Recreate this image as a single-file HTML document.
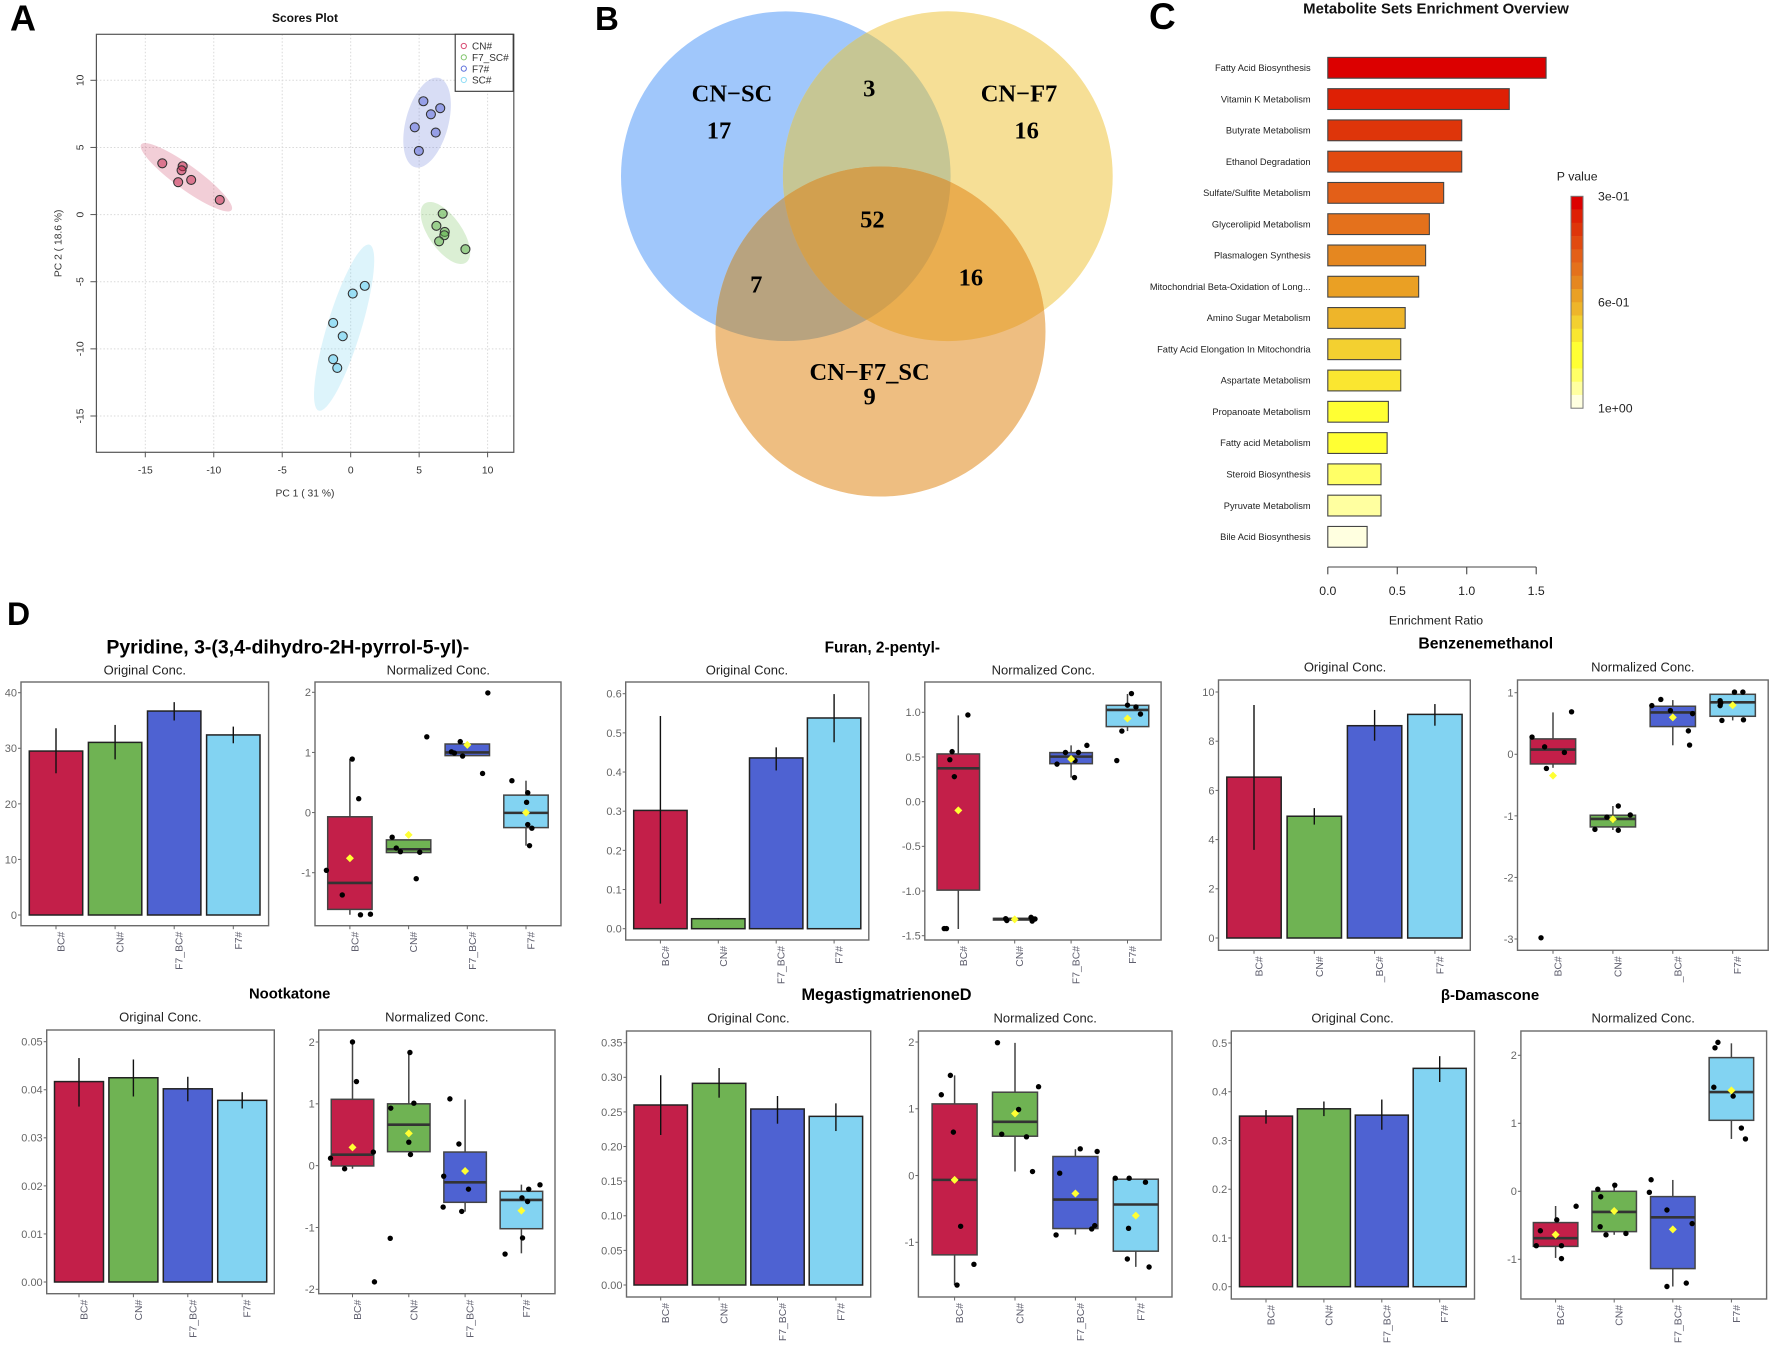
<!DOCTYPE html>
<html lang="en">
<head>
<meta charset="utf-8">
<title>Metabolomics figure</title>
<style>
html,body{margin:0;padding:0;background:#fff;}
svg{display:block;font-family:"Liberation Sans",sans-serif;}
.venn{font-family:"Liberation Serif",serif;font-weight:bold;font-size:24.5px;text-anchor:middle;fill:#000;}
.letter{font-weight:bold;fill:#000;}
.main{font-weight:bold;text-anchor:middle;fill:#000;}
.sub{font-size:13px;text-anchor:middle;fill:#222;}
</style>
</head>
<body>
<svg id="figure" xmlns="http://www.w3.org/2000/svg" width="1772" height="1349" viewBox="0 0 1772 1349">
  <rect x="0" y="0" width="1772" height="1349" fill="#fff"/>
  <text class="letter" x="10" y="30.7" font-size="36">A</text>
  <text class="letter" x="595" y="30" font-size="33">B</text>
  <text class="letter" x="1149" y="29" font-size="37">C</text>
  <text class="letter" x="7" y="625" font-size="32">D</text>

  <g id="venn">
    <defs>
      <clipPath id="clip-sc"><circle cx="785.8" cy="176.2" r="164.8"/></clipPath>
      <clipPath id="clip-f7"><circle cx="947.8" cy="176.2" r="164.9"/></clipPath>
      <clipPath id="clip-f7sc"><circle cx="880.5" cy="331.5" r="165"/></clipPath>
    </defs>
    <circle cx="785.8" cy="176.2" r="164.8" fill="#A0C7FB"/>
    <circle cx="947.8" cy="176.2" r="164.9" fill="#F6DF96"/>
    <circle cx="880.5" cy="331.5" r="165" fill="#EEBE81"/>
    <g clip-path="url(#clip-sc)"><circle cx="947.8" cy="176.2" r="164.9" fill="#C6C694"/></g>
    <g clip-path="url(#clip-sc)"><circle cx="880.5" cy="331.5" r="165" fill="#B8A37F"/></g>
    <g clip-path="url(#clip-f7)"><circle cx="880.5" cy="331.5" r="165" fill="#EAAE50"/></g>
    <g clip-path="url(#clip-sc)"><g clip-path="url(#clip-f7)"><circle cx="880.5" cy="331.5" r="165" fill="#D2A04F"/></g></g>
    <text class="venn" x="732" y="101.7">CN−SC</text>
    <text class="venn" x="719" y="138.7">17</text>
    <text class="venn" x="1019" y="101.7">CN−F7</text>
    <text class="venn" x="1026.6" y="138.7">16</text>
    <text class="venn" x="869.3" y="96.7">3</text>
    <text class="venn" x="872.4" y="227.3">52</text>
    <text class="venn" x="756.3" y="292.7">7</text>
    <text class="venn" x="970.9" y="285.7">16</text>
    <text class="venn" x="869.6" y="380">CN−F7_SC</text>
    <text class="venn" x="869.6" y="404.7">9</text>
  </g>

  <g id="scores"></g>
  <g id="enrichment"></g>
  <g id="metabolites"></g>

  <text class="main" x="287.8" y="653.3" font-size="19.5">Pyridine, 3-(3,4-dihydro-2H-pyrrol-5-yl)-</text>
  <text class="main" x="882.3" y="652.3" font-size="15.4">Furan, 2-pentyl-</text>
  <text class="main" x="1485.8" y="648.7" font-size="15.75">Benzenemethanol</text>
  <text class="main" x="289.7" y="998.7" font-size="14.8">Nootkatone</text>
  <text class="main" x="886.5" y="1000" font-size="16.3">MegastigmatrienoneD</text>
  <text class="main" x="1490" y="1000" font-size="15">β-Damascone</text>

  <text class="sub" x="144.8" y="674.7">Original Conc.</text>
  <text class="sub" x="438.3" y="674.7">Normalized Conc.</text>
  <text class="sub" x="746.9" y="674.3">Original Conc.</text>
  <text class="sub" x="1043.3" y="674.3">Normalized Conc.</text>
  <text class="sub" x="1345" y="671.7">Original Conc.</text>
  <text class="sub" x="1642.8" y="671.7">Normalized Conc.</text>
  <text class="sub" x="160.3" y="1021.3">Original Conc.</text>
  <text class="sub" x="436.8" y="1021.3">Normalized Conc.</text>
  <text class="sub" x="748.4" y="1022.3">Original Conc.</text>
  <text class="sub" x="1045.2" y="1022.3">Normalized Conc.</text>
  <text class="sub" x="1352.5" y="1022.7">Original Conc.</text>
  <text class="sub" x="1643.2" y="1022.7">Normalized Conc.</text>
</svg>

<script>
/* ---------- Panel A data ---------- */
const pcaTicks = [-15, -10, -5, 0, 5, 10];
const pcaGroups = ['CN#', 'F7_SC#', 'F7#', 'SC#'];
const cnPc1 = [-13.76, -12.27, -12.35, -12.6, -11.65, -9.56];
const cnPc2 = [3.82, 3.6, 3.3, 2.41, 2.58, 1.09];
const f7ScPc1 = [6.72, 6.26, 6.87, 6.84, 6.46, 8.38];
const f7ScPc2 = [0.07, -0.84, -1.29, -1.54, -1.99, -2.58];
const f7Pc1 = [5.31, 6.54, 5.86, 4.68, 6.21, 4.98];
const f7Pc2 = [8.44, 7.92, 7.47, 6.5, 6.11, 4.74];
const scPc1 = [1.03, 0.15, -1.28, -0.58, -1.28, -0.98];
const scPc2 = [-5.31, -5.88, -8.07, -9.06, -10.77, -11.42];
const ellipseCenterPc1 = [-12.0, 6.92, 5.58, -0.48];
const ellipseCenterPc2 = [2.78, -1.37, 6.85, -8.42];
const ellipseMajor = [4.12, 2.66, 3.41, 6.4];
const ellipseMinor = [0.88, 1.22, 1.57, 1.25];
const ellipseTilt = [36, 55, -75, -73];

/* ---------- Panel C data ---------- */
const setNames = ['Fatty Acid Biosynthesis', 'Vitamin K Metabolism', 'Butyrate Metabolism', 'Ethanol Degradation', 'Sulfate/Sulfite Metabolism', 'Glycerolipid Metabolism', 'Plasmalogen Synthesis', 'Mitochondrial Beta-Oxidation of Long...', 'Amino Sugar Metabolism', 'Fatty Acid Elongation In Mitochondria', 'Aspartate Metabolism', 'Propanoate Metabolism', 'Fatty acid Metabolism', 'Steroid Biosynthesis', 'Pyruvate Metabolism', 'Bile Acid Biosynthesis'];
const enrichmentRatios = [1.571, 1.306, 0.964, 0.964, 0.834, 0.731, 0.704, 0.654, 0.557, 0.525, 0.525, 0.436, 0.427, 0.383, 0.383, 0.283];
const enrichmentTicks = [0, 0.5, 1, 1.5];
const pValueLabels = ['3e-01', '6e-01', '1e+00'];

/* ---------- Panel D data ---------- */
const categories = ['BC#', 'CN#', 'F7_BC#', 'F7#'];
const benzeneCategories = ['BC#', 'CN#', '_BC#', 'F7#'];

const pyridineBarTicks = [0, 10, 20, 30, 40];
const pyridineBoxTicks = [-1, 0, 1, 2];
const pyridineMeans = [29.5, 31.06, 36.7, 32.4];
const pyridineErrLow = [25.5, 28, 35, 30.9];
const pyridineErrHigh = [33.6, 34.2, 38.3, 33.9];
const pyridineQ1 = [-1.61, -0.665, 0.947, -0.25];
const pyridineQ3 = [-0.07, -0.454, 1.14, 0.29];
const pyridineMedian = [-1.17, -0.61, 1.0, -0.005];
const pyridineWhiskerLow = [-1.7, -0.665, 0.947, -0.55];
const pyridineWhiskerHigh = [0.89, -0.454, 1.14, 0.53];
const pyridineBoxMean = [-0.76, -0.37, 1.125, 0];
const pyridineDots = [[0.89, 0.23, -0.96, -1.37, -1.7, -1.69], [1.26, -0.41, -0.59, -0.65, -0.66, -1.1], [1.99, 1.18, 1.01, 0.99, 0.94, 0.65], [0.53, 0.33, 0.17, -0.2, -0.26, -0.55]];
const pyridineJitter = [[0.04, 0.15, -0.4, -0.13, 0.18, 0.35], [0.31, -0.28, -0.21, -0.14, 0.19, 0.13], [0.35, -0.12, -0.27, -0.22, -0.08, 0.26], [-0.24, 0.03, 0.01, 0.03, 0.1, 0.06]];

const furanBarTicks = [0, 0.1, 0.2, 0.3, 0.4, 0.5, 0.6];
const furanBoxTicks = [-1.5, -1, -0.5, 0, 0.5, 1];
const furanMeans = [0.302, 0.0255, 0.436, 0.538];
const furanErrLow = [0.064, 0.024, 0.404, 0.476];
const furanErrHigh = [0.543, 0.027, 0.463, 0.599];
const furanQ1 = [-0.99, -1.325, 0.425, 0.84];
const furanQ3 = [0.534, -1.306, 0.549, 1.078];
const furanMedian = [0.373, -1.313, 0.504, 1.026];
const furanWhiskerLow = [-1.425, -1.325, 0.27, 0.79];
const furanWhiskerHigh = [0.966, -1.306, 0.63, 1.205];
const furanBoxMean = [-0.097, -1.317, 0.478, 0.93];
const furanDots = [[0.97, 0.56, 0.47, 0.28, -1.42, -1.42], [-1.31, -1.33, -1.295, -1.336, -1.313, -1.313], [0.63, 0.55, 0.55, 0.46, 0.42, 0.27], [1.21, 1.08, 1.06, 0.98, 0.79, 0.46]];
const furanJitter = [[0.17, -0.11, -0.15, -0.07, -0.25, -0.21], [-0.16, -0.14, 0.29, 0.31, 0.36, 0.33], [0.28, -0.1, 0.13, 0.07, -0.25, 0.06], [0.07, 0, 0.15, 0.23, -0.1, -0.19]];

const benzeneBarTicks = [0, 2, 4, 6, 8, 10];
const benzeneBoxTicks = [-3, -2, -1, 0, 1];
const benzeneMeans = [6.54, 4.95, 8.63, 9.09];
const benzeneErrLow = [3.58, 4.61, 8.02, 8.63];
const benzeneErrHigh = [9.47, 5.28, 9.27, 9.51];
const benzeneQ1 = [-0.157, -1.18, 0.45, 0.617];
const benzeneQ3 = [0.25, -0.99, 0.78, 0.974];
const benzeneMedian = [0.076, -1.05, 0.68, 0.844];
const benzeneWhiskerLow = [-0.22, -1.23, 0.146, 0.55];
const benzeneWhiskerHigh = [0.68, -0.84, 0.88, 1.017];
const benzeneBoxMean = [-0.346, -1.055, 0.6, 0.796];
const benzeneDots = [[0.69, 0.28, 0.12, 0.03, -0.23, -2.98], [-0.84, -0.985, -1.02, -1.22, -1.234, -1.06], [0.89, 0.79, 0.71, 0.66, 0.38, 0.15], [1.01, 1.01, 0.87, 0.83, 0.79, 0.55, 0.56]];
const benzeneJitter = [[0.31, -0.35, -0.14, 0.19, -0.11, -0.2], [0.09, 0.29, -0.1, -0.3, 0.09, 0], [-0.2, -0.35, -0.04, 0.33, 0.26, 0.28], [0.03, 0.17, -0.21, -0.2, -0.21, -0.18, 0.18]];

const nootkatoneBarTicks = [0, 0.01, 0.02, 0.03, 0.04, 0.05];
const nootkatoneBoxTicks = [-2, -1, 0, 1, 2];
const nootkatoneMeans = [0.0417, 0.0425, 0.0402, 0.0378];
const nootkatoneErrLow = [0.0365, 0.0386, 0.0376, 0.0361];
const nootkatoneErrHigh = [0.0466, 0.0463, 0.0427, 0.0395];
const nootkatoneQ1 = [-0.005, 0.226, -0.593, -1.02];
const nootkatoneQ3 = [1.073, 1.0, 0.22, -0.415];
const nootkatoneMedian = [0.178, 0.663, -0.27, -0.555];
const nootkatoneWhiskerLow = [-0.05, 0.226, -0.744, -1.418];
const nootkatoneWhiskerHigh = [2.0, 1.83, 1.07, -0.307];
const nootkatoneBoxMean = [0.296, 0.523, -0.086, -0.728];
const nootkatoneDots = [[2, 1.36, 0.22, 0.12, -0.05, -1.88], [1.83, 1.01, 0.93, 0.38, 0.18, -1.175], [1.08, 0.35, -0.17, -0.38, -0.67, -0.74], [-0.31, -0.38, -0.52, -0.58, -1.17, -1.43]];
const nootkatoneJitter = [[0, 0.07, 0.37, -0.39, -0.14, 0.39], [0.02, 0.09, -0.32, 0, 0.03, -0.33], [-0.27, -0.11, -0.38, 0.06, -0.39, -0.06], [0.33, 0.13, 0.01, 0.11, 0.02, -0.29]];

const megastigBarTicks = [0, 0.05, 0.1, 0.15, 0.2, 0.25, 0.3, 0.35];
const megastigBoxTicks = [-1, 0, 1, 2];
const megastigMeans = [0.26, 0.2913, 0.2542, 0.2436];
const megastigErrLow = [0.2167, 0.2706, 0.233, 0.2224];
const megastigErrHigh = [0.303, 0.3134, 0.273, 0.2624];
const megastigQ1 = [-1.188, 0.589, -0.794, -1.133];
const megastigQ3 = [1.073, 1.248, 0.285, -0.055];
const megastigMedian = [-0.065, 0.804, -0.36, -0.434];
const megastigWhiskerLow = [-1.64, 0.06, -0.884, -1.368];
const megastigWhiskerHigh = [1.5, 1.987, 0.394, -0.055];
const megastigBoxMean = [-0.065, 0.929, -0.27, -0.6];
const megastigDots = [[1.5, 1.21, 0.65, -0.76, -1.33, -1.64], [1.99, 1.33, 0.99, 0.62, 0.58, 0.06], [0.4, 0.36, 0.035, -0.75, -0.8, -0.89], [-0.04, -0.04, -0.1, -0.79, -1.25, -1.37]];
const megastigJitter = [[-0.07, -0.22, -0.02, 0.1, 0.32, 0.04], [-0.29, 0.39, 0.06, -0.22, 0.19, 0.29], [0.08, 0.36, -0.26, 0.32, 0.27, -0.32], [-0.34, -0.11, 0.16, -0.12, -0.14, 0.22]];

const damasconeBarTicks = [0, 0.1, 0.2, 0.3, 0.4, 0.5];
const damasconeBoxTicks = [-1, 0, 1, 2];
const damasconeMeans = [0.35, 0.365, 0.352, 0.448];
const damasconeErrLow = [0.3345, 0.35, 0.322, 0.42];
const damasconeErrHigh = [0.3625, 0.38, 0.384, 0.473];
const damasconeQ1 = [-0.81, -0.593, -1.137, 1.044];
const damasconeQ3 = [-0.46, 0, -0.078, 1.966];
const damasconeMedian = [-0.69, -0.304, -0.382, 1.46];
const damasconeWhiskerLow = [-0.98, -0.64, -1.4, 0.77];
const damasconeWhiskerHigh = [-0.216, 0.093, 0.167, 2.176];
const damasconeBoxMean = [-0.637, -0.29, -0.56, 1.485];
const damasconeDots = [[-0.22, -0.42, -0.58, -0.8, -0.8, -0.99], [0.09, 0.03, -0.08, -0.52, -0.64, -0.62], [0.17, -0.015, -0.275, -0.475, -1.35, -1.4], [2.19, 2.11, 1.53, 1.4, 0.93, 0.77]];
const damasconeJitter = [[0.35, 0.02, -0.26, -0.33, 0.1, 0.1], [0.01, -0.28, -0.23, -0.24, -0.14, 0.2], [-0.37, -0.4, -0.1, 0.33, 0.23, -0.1], [-0.23, -0.28, -0.3, 0.03, 0.17, 0.24]];

/* ---------- Palettes ---------- */
const categoryColors = ['#C31F49', '#6FB353', '#4E62D2', '#82D3F2'];
const pcaFill = ['rgba(196,30,72,.5)', 'rgba(90,175,70,.5)', 'rgba(70,85,215,.45)', 'rgba(100,205,240,.55)'];
const pcaHalo = ['rgba(196,30,72,.22)', 'rgba(110,190,85,.25)', 'rgba(78,98,210,.22)', 'rgba(120,210,240,.25)'];
const pcaEdge = ['#D84A72', '#80C46C', '#6072DC', '#8CDCF6'];
const heatColors = ['#DC0000', '#DE2005', '#DE350A', '#E14A10', '#E35F18', '#E4711C', '#E58720', '#EAA024', '#EEB52A', '#F3D030', '#FAE630', '#FFFF33', '#FFFF33', '#FFFF66', '#FFFFA0', '#FFFFE0'];

/* ---------- Helpers ---------- */
const NS = 'http://www.w3.org/2000/svg';
function mk(parent, tag, attrs, text) {
  const el = document.createElementNS(NS, tag);
  for (const k in attrs) el.setAttribute(k, attrs[k]);
  if (text !== undefined) el.textContent = text;
  parent.appendChild(el);
  return el;
}
function scale(d0, d1, r0, r1) {
  return function (v) { return r0 + (v - d0) * (r1 - r0) / (d1 - d0); };
}
const TICK = '#666';
const LABEL = '#666';

/* ---------- Panel A ---------- */
function drawScores() {
  const g = document.getElementById('scores');
  const L = 96.4, R = 513.8, T = 34.3, B = 452.3;
  const sx = scale(-15, 10, 145.3, 487.6);
  const sy = scale(-15, 10, 416, 80.3);
  const unitX = Math.abs(sx(1) - sx(0));
  const unitY = Math.abs(sy(1) - sy(0));

  const title = mk(g, 'text', { x: 305, y: 22, 'font-size': 12, 'font-weight': 'bold', 'text-anchor': 'middle', fill: '#111' }, 'Scores Plot');
  
  

  pcaTicks.forEach(function (t) {
    const vg = mk(g, 'line', { x1: sx(t), x2: sx(t), y1: T, y2: B, stroke: '#d9d9d9', 'stroke-width': 1, 'stroke-dasharray': '1.5 2' });
    
    
    const hg = mk(g, 'line', { x1: L, x2: R, y1: sy(t), y2: sy(t), stroke: '#d9d9d9', 'stroke-width': 1, 'stroke-dasharray': '1.5 2' });
    
    
    const xt = mk(g, 'line', { x1: sx(t), x2: sx(t), y1: B, y2: B + 5, stroke: '#555', 'stroke-width': 1 });
    
    
    const yt = mk(g, 'line', { x1: L - 6, x2: L, y1: sy(t), y2: sy(t), stroke: '#555', 'stroke-width': 1 });
    
    
    const xl = mk(g, 'text', { x: sx(t), y: 473.3, 'font-size': 10.3, 'text-anchor': 'middle', fill: '#333' }, String(t));
    
    
    const yl = mk(g, 'text', { x: 83.7, y: sy(t), 'font-size': 10.3, 'text-anchor': 'middle', fill: '#333', transform: 'rotate(-90 83.7 ' + sy(t) + ')' }, String(t));
    
    
  });

  ellipseCenterPc1.forEach(function (c, i) {
    const cx = sx(c), cy = sy(ellipseCenterPc2[i]);
    const e = mk(g, 'ellipse', { cx: cx, cy: cy, rx: ellipseMajor[i] * (unitX + unitY) / 2, ry: ellipseMinor[i] * (unitX + unitY) / 2, fill: pcaHalo[i], transform: 'rotate(' + ellipseTilt[i] + ' ' + cx + ' ' + cy + ')' });
    
    
  });

  const xs = [cnPc1, f7ScPc1, f7Pc1, scPc1];
  const ys = [cnPc2, f7ScPc2, f7Pc2, scPc2];
  xs.forEach(function (arr, i) {
    arr.forEach(function (v, j) {
      const p = mk(g, 'circle', { cx: sx(v), cy: sy(ys[i][j]), r: 4.5, fill: pcaFill[i], stroke: '#333', 'stroke-width': 1.1 });
      
      
    });
  });

  const frame = mk(g, 'rect', { x: L, y: T, width: R - L, height: B - T, fill: 'none', stroke: '#555', 'stroke-width': 1.2 });
  
  

  const box = mk(g, 'rect', { x: 455.2, y: 34.3, width: 58, height: 57, fill: '#fff', stroke: '#333', 'stroke-width': 1.1 });
  
  
  pcaGroups.forEach(function (name, i) {
    const yy = 46 + i * 11.33;
    const m = mk(g, 'circle', { cx: 463.8, cy: yy, r: 2.6, fill: 'none', stroke: pcaEdge[i], 'stroke-width': 1 });
    
    
    const t = mk(g, 'text', { x: 472, y: yy + 3.6, 'font-size': 10, fill: '#333' }, name);
    
    
  });

  const xa = mk(g, 'text', { x: 305, y: 496.7, 'font-size': 10.3, 'text-anchor': 'middle', fill: '#333' }, 'PC 1 ( 31 %)');
  
  
  const ya = mk(g, 'text', { x: 61.3, y: 243.3, 'font-size': 10.3, 'text-anchor': 'middle', fill: '#333', transform: 'rotate(-90 61.3 243.3)' }, 'PC 2 ( 18.6 %)');
  
  
}

/* ---------- Panel C ---------- */
function drawEnrichment() {
  const g = document.getElementById('enrichment');
  const sx = scale(0, 1.5, 1327.8, 1536.2);
  const bandY = function (i) { return 67.8 + 31.27 * i; };

  const title = mk(g, 'text', { x: 1436, y: 13.5, 'font-size': 14.9, 'font-weight': 'bold', 'text-anchor': 'middle', fill: '#111' }, 'Metabolite Sets Enrichment Overview');
  
  

  enrichmentRatios.forEach(function (v, i) {
    const lab = mk(g, 'text', { x: 1310.6, y: bandY(i) + 3.2, 'font-size': 9.3, 'text-anchor': 'end', fill: '#222' }, setNames[i]);
    
    
    const b = mk(g, 'rect', { x: sx(0), y: bandY(i) - 10.4, width: sx(v) - sx(0), height: 20.8, fill: heatColors[i], stroke: '#444', 'stroke-width': 1.1 });
    
    
  });

  const axis = mk(g, 'line', { x1: sx(0), x2: sx(1.5), y1: 567, y2: 567, stroke: '#444', 'stroke-width': 1.1 });
  
  
  enrichmentTicks.forEach(function (t) {
    const k = mk(g, 'line', { x1: sx(t), x2: sx(t), y1: 567, y2: 574.3, stroke: '#444', 'stroke-width': 1.1 });
    
    
    const l = mk(g, 'text', { x: sx(t), y: 595, 'font-size': 12.3, 'text-anchor': 'middle', fill: '#222' }, t.toFixed(1));
    
    
  });
  const xt = mk(g, 'text', { x: 1436, y: 624.5, 'font-size': 12.3, 'text-anchor': 'middle', fill: '#222' }, 'Enrichment Ratio');
  
  

  const lt = mk(g, 'text', { x: 1577.2, y: 180.4, 'font-size': 12.3, 'text-anchor': 'middle', fill: '#222' }, 'P value');
  
  
  const barTop = 196.3, barBottom = 408.2;
  const step = (barBottom - barTop) / heatColors.length;
  heatColors.forEach(function (c, i) {
    const s = mk(g, 'rect', { x: 1571, y: barTop + i * step, width: 12, height: step + 0.3, fill: c });
    
    
  });
  const cb = mk(g, 'rect', { x: 1571, y: barTop, width: 12, height: barBottom - barTop, fill: 'none', stroke: '#777', 'stroke-width': 1 });
  
  
  pValueLabels.forEach(function (t, i) {
    const l = mk(g, 'text', { x: 1598, y: barTop + i * (barBottom - barTop) / 2 + 4.3, 'font-size': 12.3, fill: '#222' }, t);
    
    
  });
}

/* ---------- Panel D ---------- */
function drawAxes(g, L, R, T, B, ticks, decimals, sy, cats, xFirst, xStep) {
  const frame = mk(g, 'rect', { x: L, y: T, width: R - L, height: B - T, fill: 'none', stroke: '#6a6a6a', 'stroke-width': 1.4 });
  
  
  ticks.forEach(function (t) {
    const k = mk(g, 'line', { x1: L - 3, x2: L, y1: sy(t), y2: sy(t), stroke: TICK, 'stroke-width': 1 });
    
    
    const l = mk(g, 'text', { x: L - 4, y: sy(t) + 3.9, 'font-size': 11, 'text-anchor': 'end', fill: LABEL }, t.toFixed(decimals));
    
    
  });
  cats.forEach(function (c, i) {
    const x = xFirst + i * xStep;
    const k = mk(g, 'line', { x1: x, x2: x, y1: B, y2: B + 3.5, stroke: TICK, 'stroke-width': 1 });
    
    
    const lx = x + 8.5, ly = B + 6;
    const l = mk(g, 'text', { x: lx, y: ly, 'font-size': 10.4, 'text-anchor': 'end', fill: '#5f5f6e', transform: 'rotate(-90 ' + lx + ' ' + ly + ')' }, c);
    
    
  });
}

function drawBarPlot(L, R, T, B, y0, y1, xFirst, xStep, barW, ticks, decimals, cats, means, errLow, errHigh) {
  const g = mk(document.getElementById('metabolites'), 'g', {});
  
  
  const sy = scale(ticks[0], ticks[ticks.length - 1], y0, y1);
  means.forEach(function (v, i) {
    const x = xFirst + i * xStep;
    const b = mk(g, 'rect', { x: x - barW / 2, y: sy(v), width: barW, height: sy(0) - sy(v), fill: categoryColors[i], stroke: '#222', 'stroke-width': 1.5 });
    
    
    const e = mk(g, 'line', { x1: x, x2: x, y1: sy(errLow[i]), y2: sy(errHigh[i]), stroke: '#111', 'stroke-width': 1.4 });
    
    
  });
  drawAxes(g, L, R, T, B, ticks, decimals, sy, cats, xFirst, xStep);
}

function drawBoxPlot(L, R, T, B, y0, y1, xFirst, xStep, boxW, ticks, decimals, cats, q1, q3, median, wLow, wHigh, boxMean, dots, jitter) {
  const g = mk(document.getElementById('metabolites'), 'g', {});
  
  
  const sy = scale(ticks[0], ticks[ticks.length - 1], y0, y1);
  q1.forEach(function (v, i) {
    const x = xFirst + i * xStep;
    const w = mk(g, 'line', { x1: x, x2: x, y1: sy(wLow[i]), y2: sy(wHigh[i]), stroke: '#444', 'stroke-width': 1.5 });
    
    
    const b = mk(g, 'rect', { x: x - boxW / 2, y: sy(q3[i]), width: boxW, height: sy(v) - sy(q3[i]), fill: categoryColors[i], stroke: '#444', 'stroke-width': 1.5 });
    
    
    const m = mk(g, 'line', { x1: x - boxW / 2, x2: x + boxW / 2, y1: sy(median[i]), y2: sy(median[i]), stroke: '#333', 'stroke-width': 2.6 });
    
    
    dots[i].forEach(function (d, j) {
      const p = mk(g, 'circle', { cx: x + jitter[i][j] * xStep, cy: sy(d), r: 2.7, fill: '#000' });
      
      
    });
    const my = sy(boxMean[i]);
    const d = mk(g, 'polygon', { points: [x - 4, my, x, my - 4, x + 4, my, x, my + 4].join(' '), fill: '#FFFF33' });
    
    
  });
  drawAxes(g, L, R, T, B, ticks, decimals, sy, cats, xFirst, xStep);
}

drawScores();
drawEnrichment();

drawBarPlot(21, 268.6, 682, 925.7, 915, 692.7, 56, 59.1, 53.4, pyridineBarTicks, 0, categories, pyridineMeans, pyridineErrLow, pyridineErrHigh);
drawBoxPlot(315, 561, 682, 925.7, 872.7, 692.3, 349.9, 58.7, 44.4, pyridineBoxTicks, 0, categories, pyridineQ1, pyridineQ3, pyridineMedian, pyridineWhiskerLow, pyridineWhiskerHigh, pyridineBoxMean, pyridineDots, pyridineJitter);

drawBarPlot(625.7, 868.8, 682, 940, 928.7, 693.7, 660.4, 57.9, 53.4, furanBarTicks, 1, categories, furanMeans, furanErrLow, furanErrHigh);
drawBoxPlot(924.8, 1161.1, 682, 940, 935.7, 712.3, 958.3, 56.4, 42.5, furanBoxTicks, 1, categories, furanQ1, furanQ3, furanMedian, furanWhiskerLow, furanWhiskerHigh, furanBoxMean, furanDots, furanJitter);

drawBarPlot(1218.5, 1470.3, 680, 950.3, 938, 692, 1254, 60.3, 54.4, benzeneBarTicks, 0, benzeneCategories, benzeneMeans, benzeneErrLow, benzeneErrHigh);
drawBoxPlot(1517.5, 1768.2, 680, 950.3, 939, 692.7, 1553, 59.9, 45.3, benzeneBoxTicks, 0, benzeneCategories, benzeneQ1, benzeneQ3, benzeneMedian, benzeneWhiskerLow, benzeneWhiskerHigh, benzeneBoxMean, benzeneDots, benzeneJitter);

drawBarPlot(46.7, 274.3, 1030, 1293.7, 1282, 1041.7, 79, 54.4, 49, nootkatoneBarTicks, 2, categories, nootkatoneMeans, nootkatoneErrLow, nootkatoneErrHigh);
drawBoxPlot(318.7, 555, 1030, 1293.7, 1289.3, 1042, 352.5, 56.3, 42.5, nootkatoneBoxTicks, 0, categories, nootkatoneQ1, nootkatoneQ3, nootkatoneMedian, nootkatoneWhiskerLow, nootkatoneWhiskerHigh, nootkatoneBoxMean, nootkatoneDots, nootkatoneJitter);

drawBarPlot(626.5, 870.7, 1031, 1297, 1285, 1042.7, 660.7, 58.4, 53.4, megastigBarTicks, 2, categories, megastigMeans, megastigErrLow, megastigErrHigh);
drawBoxPlot(918.4, 1172, 1031, 1297, 1242.3, 1042, 954.6, 60.4, 45, megastigBoxTicks, 0, categories, megastigQ1, megastigQ3, megastigMedian, megastigWhiskerLow, megastigWhiskerHigh, megastigBoxMean, megastigDots, megastigJitter);

drawBarPlot(1231.3, 1474.5, 1031, 1299, 1286.7, 1043, 1266, 57.9, 53, damasconeBarTicks, 1, categories, damasconeMeans, damasconeErrLow, damasconeErrHigh);
drawBoxPlot(1520.9, 1766.6, 1031, 1299, 1259.3, 1055.3, 1555.6, 58.6, 44.5, damasconeBoxTicks, 0, categories, damasconeQ1, damasconeQ3, damasconeMedian, damasconeWhiskerLow, damasconeWhiskerHigh, damasconeBoxMean, damasconeDots, damasconeJitter);
</script>
</body>
</html>
